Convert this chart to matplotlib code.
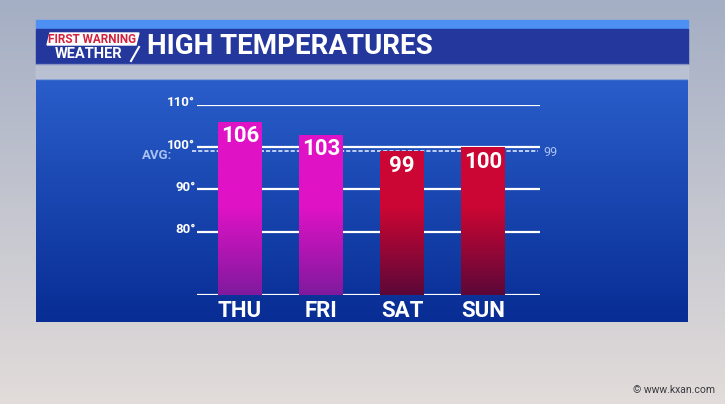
import matplotlib.pyplot as plt
import numpy as np
from matplotlib.colors import to_rgb
from matplotlib.patches import Rectangle, Polygon

days = ["THU", "FRI", "SAT", "SUN"]
highs = [106, 103, 99, 100]
avg_high = 99
grid_vals = [110, 100, 90, 80]
base = 65

plt.rcParams['font.family'] = ['Roboto', 'DejaVu Sans']

def vgrad(top, bottom, n=256):
    t = np.linspace(0, 1, n)[:, None]
    a = np.array(to_rgb(top))
    b = np.array(to_rgb(bottom))
    return (a * (1 - t) + b * t)[:, None, :].repeat(2, axis=1)

fig = plt.figure(figsize=(7.25, 4.04), dpi=100)

# background in pixel coordinates
bg = fig.add_axes([0, 0, 1, 1])
bg.axis("off")
bg.imshow(vgrad("#a4aec4", "#e2dcda"), extent=(0, 725, 404, 0), aspect="auto", zorder=0)
bg.imshow(vgrad("#2a5ecb", "#082d94"), extent=(36, 688, 322, 79), aspect="auto", zorder=1)
bg.add_patch(Rectangle((36, 20), 652, 9, color="#4d8ff2", zorder=2))
bg.add_patch(Rectangle((36, 29), 652, 35, color="#24379d", zorder=2))
bg.add_patch(Rectangle((36, 64), 652, 15, color="#c4cbdc", alpha=0.5, zorder=2))

# logo + title
bg.add_patch(Polygon([(50, 33), (139, 33), (136, 45), (47, 45)], color="white", zorder=3))
bg.text(92, 39.5, "FIRST WARNING", color="#d3203c", fontsize=8.5, fontweight="bold",
        ha="center", va="center", zorder=4)
bg.text(89, 53.5, "WEATHER", color="white", fontsize=10.5, fontweight="bold",
        ha="center", va="center", zorder=4)
bg.plot([139, 131], [47, 61], color="white", lw=1.5, zorder=4)
bg.text(147, 46.5, "HIGH TEMPERATURES", color="white", fontsize=20, fontweight="bold",
        ha="left", va="center", zorder=4)
bg.text(715, 390, "\u00a9 www.kxan.com", color="#3a3a40", fontsize=7.5,
        ha="right", va="center", zorder=4)
bg.set_xlim(0, 725)
bg.set_ylim(404, 0)

# chart
ax = fig.add_axes([197 / 725, 109 / 404, 343 / 725, 190 / 404])
ax.set_facecolor("none")
ax.axis("off")
xlim = (-0.53, 3.70)
x = np.arange(len(days))
w = 0.54

for v in grid_vals + [base]:
    ax.plot(xlim, [v, v], color="white", lw=1.6, zorder=1, solid_capstyle="butt")
    if v != base:
        ax.text(xlim[0] - 0.02, v + 0.5, f"{v}\u00b0", color="white", fontsize=9.5,
                fontweight="bold", ha="right", va="center")
ax.plot([xlim[0] - 0.06, xlim[1] - 0.02], [avg_high, avg_high], color="#dbe6ff", lw=1.2,
        ls=(0, (2.5, 1.2)), zorder=1, clip_on=False)
ax.text(xlim[0] - 0.3, avg_high - 0.9, "AVG:", color="#a9c2f2", fontsize=9.5,
        fontweight="bold", ha="right", va="center")
ax.text(xlim[1] + 0.04, avg_high - 0.2, str(avg_high), color="#a9c2f2", fontsize=9,
        ha="left", va="center")

bar_cols = [("#e012c6", "#801a9e"), ("#e012c6", "#801a9e"),
            ("#cc0634", "#5c0838"), ("#cc0634", "#5c0838")]
bars = ax.bar(x, [h - base for h in highs], bottom=base, width=w, color="none", zorder=2)
for xi, h, b, (top, bot) in zip(x, highs, bars, bar_cols):
    g = np.concatenate([np.repeat(vgrad(top, top, 2)[:1], 64, axis=0), vgrad(top, bot, 56)])
    im = ax.imshow(g, extent=(xi - w / 2, xi + w / 2, base, 110), aspect="auto", zorder=2)
    im.set_clip_path(b)
    ax.text(xi, h - 0.8, str(h), color="white", fontsize=16, fontweight="bold",
            ha="center", va="top", zorder=3)
    ax.text(xi, base - 3.7, days[xi], color="white", fontsize=16, fontweight="bold",
            ha="center", va="center", zorder=3, clip_on=False)

ax.set_xlim(*xlim)
ax.set_ylim(base, 110)

plt.savefig("out.png", dpi=100)
